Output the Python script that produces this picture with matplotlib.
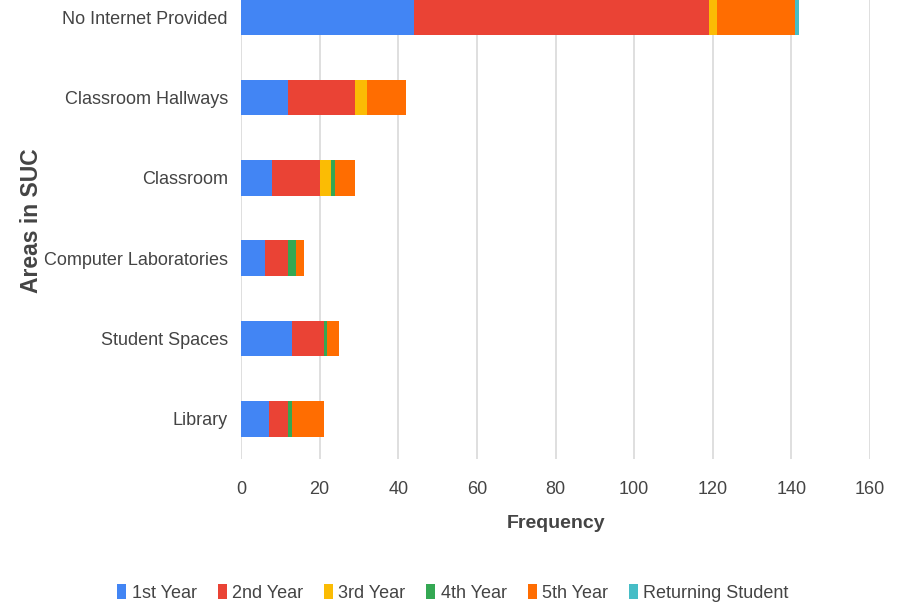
import matplotlib
matplotlib.use("Agg")
import matplotlib.pyplot as plt
from matplotlib.patches import Patch
import numpy as np

categories = ["No Internet Provided", "Classroom Hallways", "Classroom",
              "Computer Laboratories", "Student Spaces", "Library"]
series_names = ["1st Year", "2nd Year", "3rd Year", "4th Year", "5th Year", "Returning Student"]
first_year = [44, 12, 8, 6, 13, 7]
second_year = [75, 17, 12, 6, 8, 5]
third_year = [2, 3, 3, 0, 0, 0]
fourth_year = [0, 0, 1, 2, 1, 1]
fifth_year = [20, 10, 5, 2, 3, 8]
returning = [1, 0, 0, 0, 0, 0]
x_ticks = [0, 20, 40, 60, 80, 100, 120, 140, 160]

colors = ["#4285F4", "#EA4335", "#FBBC04", "#34A853", "#FF6D01", "#46BDC6"]
series = [first_year, second_year, third_year, fourth_year, fifth_year, returning]

fams = ["Liberation Sans", "DejaVu Sans"]
plt.rcParams['font.family'] = fams

fig = plt.figure(figsize=(8.97, 6.07), dpi=100)
ax = fig.add_axes([241/897, (607-459)/607, (870-241)/897, (459+23)/607])

y = np.arange(len(categories))
left = np.zeros(len(categories))
for vals, c in zip(series, colors):
    v = np.array(vals, dtype=float)
    ax.barh(y, v, left=left, color=c, height=0.44, zorder=3)
    left += v

ax.set_xlim(0, 160)
ax.set_ylim(len(categories) - 0.5, -0.5)
ax.set_yticks(y)
ax.set_yticklabels(categories, fontsize=13, color="#444444")
ax.set_xticks(x_ticks)
ax.set_xticklabels([str(t) for t in x_ticks], fontsize=13, color="#444444")
ax.tick_params(axis="y", length=0, pad=9.5)
ax.tick_params(axis="x", length=0, pad=16)
ax.grid(axis="x", color="#d9d9d9", linewidth=1.2, zorder=0)
for s in ax.spines.values():
    s.set_visible(False)

fig.text(31/897, 1 - 221/607, "Areas in SUC", rotation=90, fontsize=16.5, fontweight="bold",
         color="#444444", ha="center", va="center")
fig.text(556/897, 1 - 524/607, "Frequency", fontsize=14, fontweight="bold",
         color="#444444", ha="center", va="center")

handles = [Patch(facecolor=c, edgecolor="none") for c in colors]
fig.legend(handles, series_names, loc="center", bbox_to_anchor=(453/897, 1 - 593/607),
           ncol=6, frameon=False, fontsize=13, handlelength=0.5, handleheight=0.9,
           handletextpad=0.3, columnspacing=1.15, labelcolor="#444444")

fig.savefig("out.png", dpi=100)
